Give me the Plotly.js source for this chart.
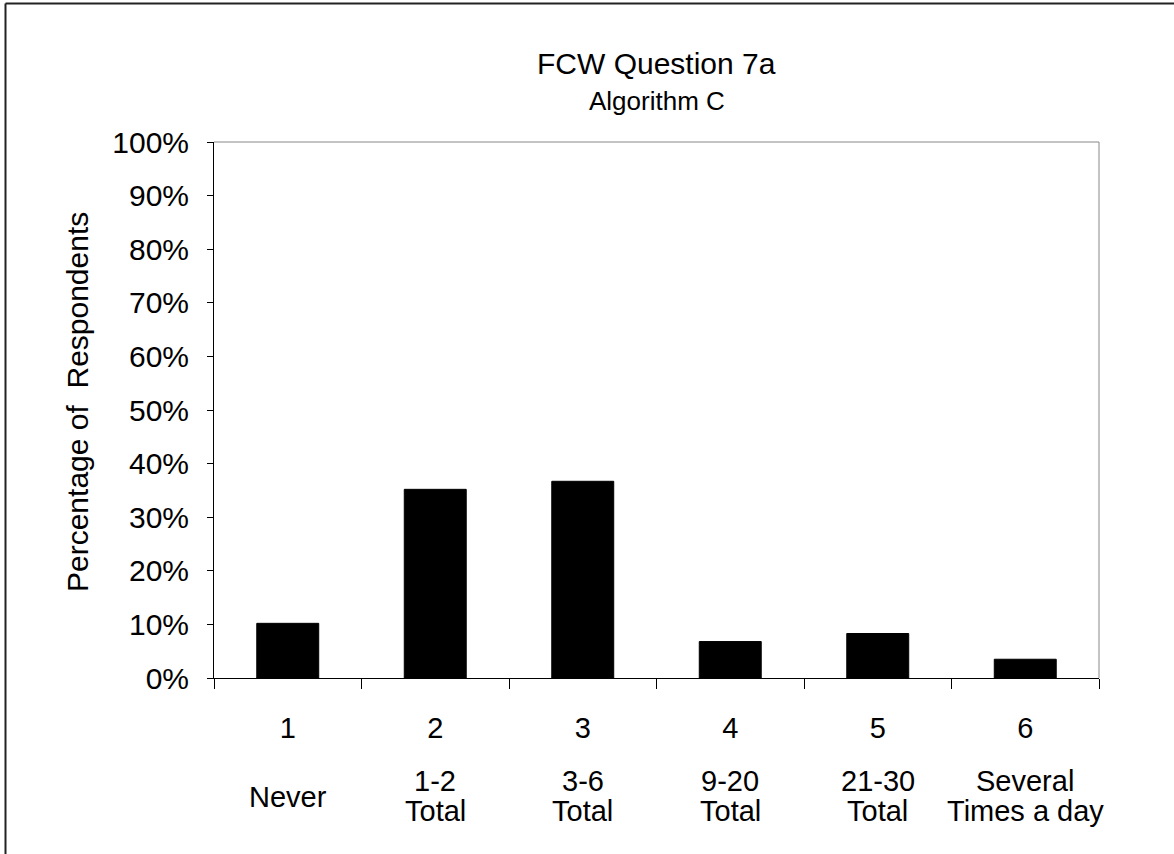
<!DOCTYPE html>
<html>
<head>
<meta charset="utf-8">
<script src="https://cdn.plot.ly/plotly-3.0.1.min.js"></script>
<style>html,body{margin:0;padding:0;background:#fff;}#chart{width:1174px;height:854px;}</style>
</head>
<body>
<div id="chart"></div>
<script>
const categories = ["1", "2", "3", "4", "5", "6"];
const labelLine1 = ["", "1-2", "3-6", "9-20", "21-30", "Several"];
const labelLine2 = ["", "Total", "Total", "Total", "Total", "Times a day"];
const labelSingle = ["Never", "", "", "", "", ""];
const values = [10.2, 35.2, 36.7, 6.8, 8.3, 3.5];
const yTickVals = [0, 10, 20, 30, 40, 50, 60, 70, 80, 90, 100];
const yTickText = ["0%", "10%", "20%", "30%", "40%", "50%", "60%", "70%", "80%", "90%", "100%"];
const titleText = "FCW Question 7a";
const subtitleText = "Algorithm C";
const yTitle = "Percentage of  Respondents";

const FONT = "Liberation Sans, Arial, sans-serif";
const L = 214, R = 75, T = 142, B = 176, W = 1174, H = 854;
const pw = W - L - R, ph = H - T - B;
const px2x = p => (p - L) / pw;
const px2y = p => 1 - (p - T) / ph;
const CAT = 29;

const annotations = [];
function addLabel(arr, ypx) {
  arr.forEach((t, i) => {
    if (!t) return;
    annotations.push({x: i, xref: "x", y: px2y(ypx), yref: "paper", text: t, showarrow: false,
      xanchor: "center", yanchor: "middle", font: {family: FONT, size: CAT, color: "#000"}});
  });
}
addLabel(labelLine1, 781);
addLabel(labelLine2, 811);
addLabel(labelSingle, 797);
annotations.push({x: 0.5, xref: "paper", y: px2y(63), yref: "paper", text: titleText, showarrow: false,
  xanchor: "center", yanchor: "middle", font: {family: FONT, size: 30, color: "#000"}});
annotations.push({x: 0.5, xref: "paper", y: px2y(101), yref: "paper", text: subtitleText, showarrow: false,
  xanchor: "center", yanchor: "middle", font: {family: FONT, size: 26, color: "#000"}});
annotations.push({x: px2x(77), xref: "paper", y: px2y(402), yref: "paper", text: yTitle, showarrow: false,
  textangle: -90, xanchor: "center", yanchor: "middle", font: {family: FONT, size: 30, color: "#000"}});

const data = [{
  type: "bar", x: categories, y: values,
  marker: {color: "#000", line: {color: "#000", width: 1}},
  hoverinfo: "none"
}];

const layout = {
  width: W, height: H,
  margin: {l: L, r: R, t: T, b: B, pad: 0},
  paper_bgcolor: "#fff", plot_bgcolor: "#fff",
  showlegend: false,
  bargap: 0.58,
  font: {family: FONT, color: "#000"},
  xaxis: {
    type: "category", range: [-0.5, 5.5],
    tickson: "boundaries", ticks: "outside", ticklen: 10, tickcolor: "#000", tickwidth: 1,
    showline: true, linecolor: "#000", linewidth: 1,
    showgrid: false, zeroline: false,
    tickfont: {family: FONT, size: CAT, color: "#000"},
    ticklabelstandoff: 24
  },
  yaxis: {
    range: [0, 100], tickvals: yTickVals, ticktext: yTickText,
    ticks: "outside", ticklen: 6, tickcolor: "#000", tickwidth: 1,
    showline: true, linecolor: "#000", linewidth: 1,
    showgrid: false, zeroline: false,
    tickfont: {family: FONT, size: 30, color: "#000"},
    ticklabelstandoff: 12
  },
  shapes: [
    {type: "line", xref: "paper", yref: "paper", x0: px2x(5.5), x1: px2x(5.5), y0: px2y(860), y1: px2y(3.5), line: {color: "#222", width: 2}},
    {type: "line", xref: "paper", yref: "paper", x0: px2x(5.5), x1: px2x(1180), y0: px2y(3.5), y1: px2y(3.5), line: {color: "#222", width: 2}},
    {type: "line", xref: "paper", yref: "paper", x0: 0, x1: 1, y0: 1, y1: 1, line: {color: "#888", width: 1}},
    {type: "line", xref: "paper", yref: "paper", x0: 1, x1: 1, y0: 0, y1: 1, line: {color: "#888", width: 1}}
  ],
  annotations: annotations
};

Plotly.newPlot("chart", data, layout, {displayModeBar: false, staticPlot: true});
</script>
</body>
</html>
